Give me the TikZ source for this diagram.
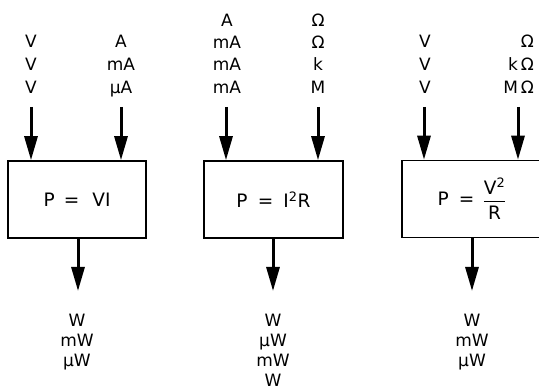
\documentclass[tikz,border=0pt]{standalone}
\usepackage{amsmath}
\usepackage{fontspec}
\setmainfont{DejaVu Sans}
\usetikzlibrary{arrows.meta}
\tikzset{
  lbl/.style={inner sep=0pt, anchor=base, font=\fontsize{17}{19}\selectfont},
  lblr/.style={lbl, anchor=base east},
  formbox/.style={draw, line width=1.6pt, minimum height=77pt, inner sep=0pt, font=\fontsize{18.5}{21}\selectfont},
  flow/.style={line width=3pt, -{Triangle[length=24pt,width=13pt]}},
}
\begin{document}
\begin{tikzpicture}[x=1pt,y=-1pt]
\useasboundingbox (0,0) rectangle (539,390);
% boxes
\node[formbox, minimum width=138pt] (b1) at (77,199.5) {P\hspace{0.5em}=\hspace{0.7em}VI};
\node[formbox, minimum width=139pt] (b2) at (273.5,199.5) {P\hspace{0.55em}=\hspace{0.55em}I\textsuperscript{2}R};
\node[formbox, minimum width=140pt] (b3) at (472,199) {P\hspace{0.55em}=\hspace{0.45em}$\genfrac{}{}{1.3pt}{0}{\mbox{V\textsuperscript{2}}}{\mbox{R}}$};
% input labels
\foreach \t [count=\i] in {V,V,V}
  \node[lbl] (b1l\i) at (31,25+23*\i) {\t};
\foreach \t [count=\i] in {A,mA,\textmu A}
  \node[lbl] (b1r\i) at (121,25+23*\i) {\t};
\foreach \t/\y [count=\i] in {A/27,mA/49,mA/71,mA/94}
  \node[lbl] (b2l\i) at (227,\y) {\t};
\foreach \t/\y [count=\i] in {Ω/27,Ω/49,k/71,M/94}
  \node[lbl] (b2r\i) at (318,\y) {\t};
\foreach \t [count=\i] in {V,V,V}
  \node[lbl] (b3l\i) at (425,25+23*\i) {\t};
\foreach \t [count=\i] in {Ω,k\,Ω,M\,Ω}
  \node[lblr] (b3r\i) at (534,25+23*\i) {\t};
% output labels
\foreach \t [count=\i] in {W,mW,\textmu W}
  \node[lbl] (o1\i) at (77,307+20*\i) {\t};
\foreach \t/\y [count=\i] in {W/327,\textmu W/347,mW/367,W/386.5}
  \node[lbl] (o2\i) at (273,\y) {\t};
\foreach \t [count=\i] in {W,mW,\textmu W}
  \node[lbl] (o3\i) at (472,307+20*\i) {\t};
% arrow ends
\coordinate (s1a) at (31,107);
\coordinate (s1b) at (121,107);
\coordinate (s2a) at (226,107);
\coordinate (s2b) at (318,107);
\coordinate (s3a) at (424,107);
\coordinate (s3b) at (518,107);
\coordinate (e1) at (78,291);
\coordinate (e2) at (273,291);
\coordinate (e3) at (472,291);
% arrows
\foreach \s/\b in {s1a/b1,s1b/b1,s2a/b2,s2b/b2,s3a/b3,s3b/b3}
  \draw[flow] (\s) -- (\s |- \b.north);
\foreach \e/\b in {e1/b1,e2/b2,e3/b3}
  \draw[flow] (\e |- \b.south) -- (\e);
\end{tikzpicture}
\end{document}
